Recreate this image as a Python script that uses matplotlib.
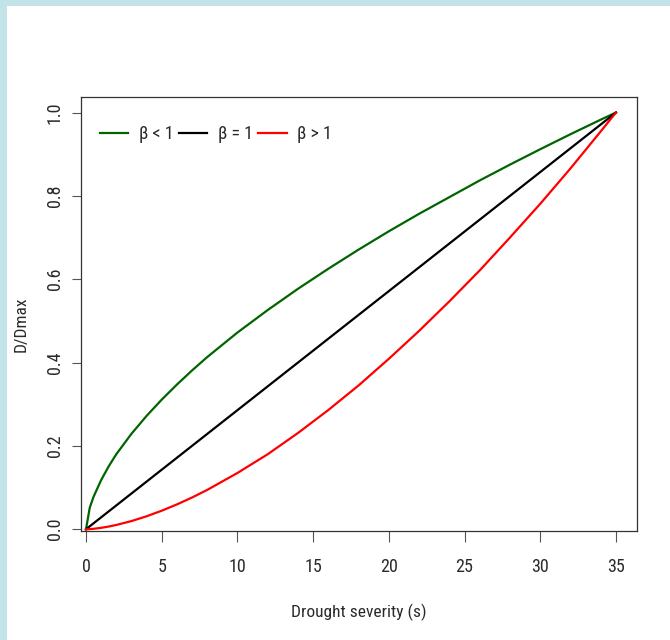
import matplotlib
matplotlib.use("Agg")
import matplotlib.pyplot as plt
from matplotlib.patches import Rectangle

plt.rcParams['font.family'] = ['Liberation Sans Narrow', 'Roboto Condensed', 'DejaVu Sans Condensed',
                               'Liberation Sans', 'DejaVu Sans']

# ---- data ----
s_values = [0, 0.25, 0.5, 1, 1.5, 2, 3, 4, 5, 6, 7, 8, 10, 12, 14, 16, 18, 20,
            22, 24, 26, 28, 30, 32, 34, 35]
d_beta_lt1 = [0, 0.052, 0.078, 0.118, 0.151, 0.180, 0.229, 0.272, 0.311, 0.347,
              0.381, 0.413, 0.472, 0.526, 0.577, 0.625, 0.671, 0.715, 0.757,
              0.797, 0.837, 0.875, 0.912, 0.948, 0.983, 1.0]
d_beta_gt1 = [0, 0.0004, 0.0011, 0.0034, 0.0065, 0.0103, 0.0196, 0.0311, 0.0445,
              0.0595, 0.0761, 0.0943, 0.135, 0.180, 0.231, 0.286, 0.345, 0.409,
              0.476, 0.547, 0.621, 0.700, 0.781, 0.866, 0.955, 1.0]
s_linear = [0, 35]
d_beta_eq1 = [0, 1.0]

labels = ["β < 1", "β = 1", "β > 1"]
x_ticks = [0, 5, 10, 15, 20, 25, 30, 35]
y_ticks = [0.0, 0.2, 0.4, 0.6, 0.8, 1.0]
y_ticklabels = ["0.0", "0.2", "0.4", "0.6", "0.8", "1.0"]

W, H = 670, 640
fig = plt.figure(figsize=(W / 100, H / 100), dpi=100)
fig.patch.set_facecolor("white")

# light blue frame (top and left)
border = "#c2e3e8"
fig.patches.append(Rectangle((0, 0), 7 / W, 1, transform=fig.transFigure,
                             facecolor=border, edgecolor="none", zorder=0))
fig.patches.append(Rectangle((0, 1 - 6 / H), 1, 6 / H, transform=fig.transFigure,
                             facecolor=border, edgecolor="none", zorder=0))

left, right, top, bottom = 81.3, 637.3, 96.7, 530.5
ax = fig.add_axes([left / W, 1 - bottom / H, (right - left) / W, (bottom - top) / H])

ax.plot(s_values, d_beta_lt1, color="#006400", lw=1.6, label=labels[0])
ax.plot(s_linear, d_beta_eq1, color="black", lw=1.6, label=labels[1])
ax.plot(s_values, d_beta_gt1, color="#ff0000", lw=1.6, label=labels[2])

ax.set_xlim(-0.31, 36.41)
ax.set_ylim(-0.003, 1.038)

ax.set_xticks(x_ticks)
ax.set_xticklabels([str(v) for v in x_ticks])
ax.set_yticks(y_ticks)
ax.set_yticklabels(y_ticklabels, rotation=90, va="center")

for sp in ax.spines.values():
    sp.set_color("#333333")
    sp.set_linewidth(0.9)

ax.tick_params(axis="x", direction="out", length=8, width=0.8, color="#555555",
               labelsize=13, labelcolor="#2a2a2a", pad=12)
ax.tick_params(axis="y", direction="out", length=6.5, width=0.8, color="#555555",
               labelsize=13, labelcolor="#2a2a2a", pad=6)

ax.set_xlabel("Drought severity (s)", fontsize=12.5, color="#2a2a2a")
ax.xaxis.set_label_coords((359 - left) / (right - left), -(604 - bottom) / (bottom - top))
ax.set_ylabel("D/Dmax", fontsize=12.5, color="#2a2a2a")
ax.yaxis.set_label_coords(-(left - 29) / (right - left), (bottom - 324) / (bottom - top))

leg = ax.legend(loc="center left",
                bbox_to_anchor=((100 - left) / (right - left), (bottom - 134) / (bottom - top)),
                ncol=3, frameon=False, fontsize=13, handlelength=1.56,
                handletextpad=0.6, columnspacing=0.3, borderpad=0, borderaxespad=0)
for t in leg.get_texts():
    t.set_color("#2a2a2a")

fig.savefig("out.png", dpi=100, facecolor="white")
